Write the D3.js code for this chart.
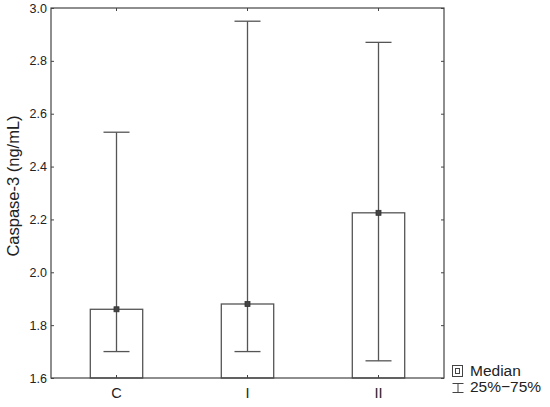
<!DOCTYPE html>
<html><head><meta charset="utf-8">
<script src="https://cdn.jsdelivr.net/npm/d3@7"></script>
<style>body{margin:0;background:#fff}text{font-family:Arial,"Liberation Sans",sans-serif;fill:#222}</style>
</head><body><svg id="c" width="550" height="407"></svg>
<script>
const categories = ["C", "I", "II"];
const medians = [1.86, 1.88, 2.225];
const q25 = [1.70, 1.70, 1.665];
const q75 = [2.53, 2.95, 2.87];
const yTicks = [1.6, 1.8, 2.0, 2.2, 2.4, 2.6, 2.8, 3.0];

const svg = d3.select("#c");
const m = {l: 51, r: 106, t: 8, b: 29};
const W = 550, H = 407;
const x = d3.scaleBand().domain(categories).range([m.l, W - m.r]);
const y = d3.scaleLinear().domain([1.6, 3.0]).range([H - m.b, m.t]);
const stroke = "#555";

// bars
const bw = x.bandwidth() * 0.4;
categories.forEach((c, i) => {
  const cx = x(c) + x.bandwidth() / 2;
  svg.append("rect").attr("x", cx - bw / 2).attr("y", y(medians[i]))
    .attr("width", bw).attr("height", y(1.6) - y(medians[i]))
    .attr("fill", "#fff").attr("stroke", stroke).attr("stroke-width", 1.3);
  svg.append("line").attr("x1", cx).attr("x2", cx).attr("y1", y(q25[i])).attr("y2", y(q75[i]))
    .attr("stroke", stroke).attr("stroke-width", 1.3);
  [q25[i], q75[i]].forEach(v => {
    svg.append("line").attr("x1", cx - 13).attr("x2", cx + 13).attr("y1", y(v)).attr("y2", y(v))
      .attr("stroke", stroke).attr("stroke-width", 1.3);
  });
  svg.append("rect").attr("x", cx - 2.5).attr("y", y(medians[i]) - 2.5).attr("width", 5).attr("height", 5)
    .attr("fill", "#444").attr("stroke", "#333").attr("stroke-width", 0.8);
});

// frame
svg.append("rect").attr("x", m.l).attr("y", m.t).attr("width", W - m.r - m.l).attr("height", H - m.b - m.t)
  .attr("fill", "none").attr("stroke", "#444").attr("stroke-width", 1.2);

// axes
const yl = svg.append("g").attr("transform", `translate(${m.l},0)`)
  .call(d3.axisLeft(y).tickValues(yTicks).tickFormat(d3.format(".1f")).tickSizeInner(-3).tickSizeOuter(0).tickPadding(4));
yl.select(".domain").remove();
yl.selectAll("text").attr("font-size", 12.5);
yl.selectAll("line").attr("stroke", "#444");
const yr = svg.append("g").attr("transform", `translate(${W - m.r},0)`)
  .call(d3.axisRight(y).tickValues(yTicks).tickFormat("").tickSizeInner(-3).tickSizeOuter(0));
yr.select(".domain").remove(); yr.selectAll("line").attr("stroke", "#444");
const xb = svg.append("g").attr("transform", `translate(0,${H - m.b})`)
  .call(d3.axisBottom(x).tickSizeInner(-3).tickSizeOuter(0).tickPadding(10));
xb.select(".domain").remove();
xb.selectAll("text").attr("font-size", 14.5);
xb.selectAll("line").attr("stroke", "#444");
const xt = svg.append("g").attr("transform", `translate(0,${m.t})`)
  .call(d3.axisTop(x).tickFormat("").tickSizeInner(-3).tickSizeOuter(0));
xt.select(".domain").remove(); xt.selectAll("line").attr("stroke", "#444");

// y label
svg.append("text").attr("transform", `translate(19,186) rotate(-90)`)
  .attr("text-anchor", "middle").attr("font-size", 16.5).text("Caspase-3 (ng/mL)");

// legend
const lx = 452.5;
svg.append("rect").attr("x", lx).attr("y", 365.5).attr("width", 10).attr("height", 11).attr("fill", "#fff").attr("stroke", "#444");
svg.append("rect").attr("x", lx + 3).attr("y", 368.5).attr("width", 4).attr("height", 5).attr("fill", "#fff").attr("stroke", "#444");
svg.append("text").attr("x", 470).attr("y", 375.5).attr("font-size", 15.5).text("Median");
svg.append("path").attr("d", `M${lx},383.5H${lx + 11}M${lx + 5.5},383.5V392.5M${lx},392.5H${lx + 11}`)
  .attr("stroke", "#444").attr("fill", "none");
svg.append("text").attr("x", 470).attr("y", 391.5).attr("font-size", 15.5).text("25%\u221275%");
</script></body></html>
